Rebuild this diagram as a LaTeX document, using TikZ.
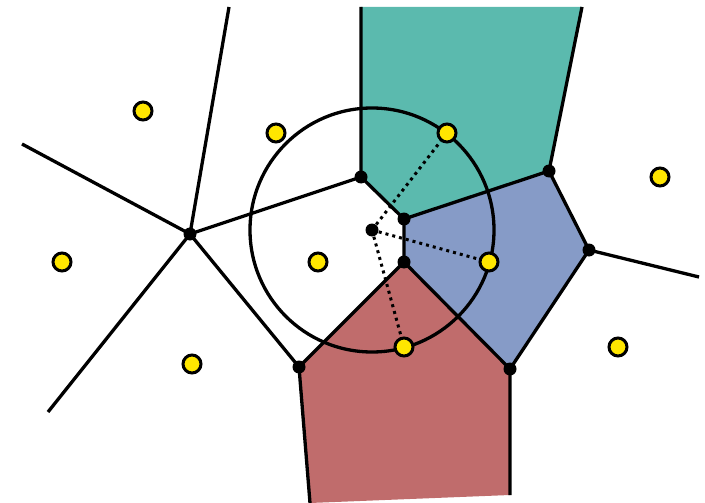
\documentclass[tikz,border=0pt]{standalone}
\definecolor{tealreg}{RGB}{91,186,174}
\definecolor{bluereg}{RGB}{134,155,199}
\definecolor{redreg}{RGB}{192,108,108}
\definecolor{sitecol}{RGB}{255,230,0}
\tikzset{
  site/.style={circle,draw,line width=3pt,fill=sitecol,inner sep=0pt,minimum size=18pt},
  vert/.style={circle,fill=black,inner sep=0pt,minimum size=13pt},
  edge/.style={line width=3.3pt},
  link/.style={line width=3pt,dash pattern=on 3pt off 4pt}
}
\begin{document}
\begin{tikzpicture}[x=1pt,y=-1pt]
\useasboundingbox (0,0) rectangle (705,503);
\coordinate (a) at (361,177);
\coordinate (b) at (404,219);
\coordinate (c) at (404,262);
\coordinate (d) at (190,234);
\coordinate (e) at (299,367);
\coordinate (f) at (510,369);
\coordinate (g) at (589,250);
\coordinate (h) at (549,171);
\coordinate (o) at (372,230);
\coordinate (t1) at (361,7);
\coordinate (t2) at (582,7);
\coordinate (t3) at (229,7);
\coordinate (l1) at (22,144);
\coordinate (l2) at (48,412);
\coordinate (r1) at (699,277);
\coordinate (b1) at (510,495);
\coordinate (b2) at (310,503);

% regions
\fill[tealreg] (t1) -- (t2) -- (h) -- (b) -- (a) -- cycle;
\fill[bluereg] (b) -- (h) -- (g) -- (f) -- (c) -- cycle;
\fill[redreg] (c) -- (f) -- (b1) -- (b2) -- (e) -- cycle;

\draw[edge] (o) circle (122);

\draw[edge] (t1) -- (a) -- (b) -- (h) -- (t2)
  (a) -- (d) -- (t3)
  (d) -- (l1)
  (d) -- (l2)
  (d) -- (e) -- (c) -- (b)
  (c) -- (f) -- (g) -- (h)
  (g) -- (r1)
  (f) -- (b1)
  (e) -- (b2);

\node[site] (s1) at (143,111) {};
\node[site] (s2) at (276,133) {};
\node[site] (s3) at (447,133) {};
\node[site] (s4) at (660,177) {};
\node[site] (s5) at (62,262) {};
\node[site] (s6) at (318,262) {};
\node[site] (s7) at (489,262) {};
\node[site] (s8) at (192,364) {};
\node[site] (s9) at (404,347) {};
\node[site] (s10) at (618,347) {};

\draw[link] (o) -- (s3) (o) -- (s7) (o) -- (s9);

\foreach \v in {a,b,c,d,e,f,g,h,o}
  \node[vert] at (\v) {};
\end{tikzpicture}
\end{document}
